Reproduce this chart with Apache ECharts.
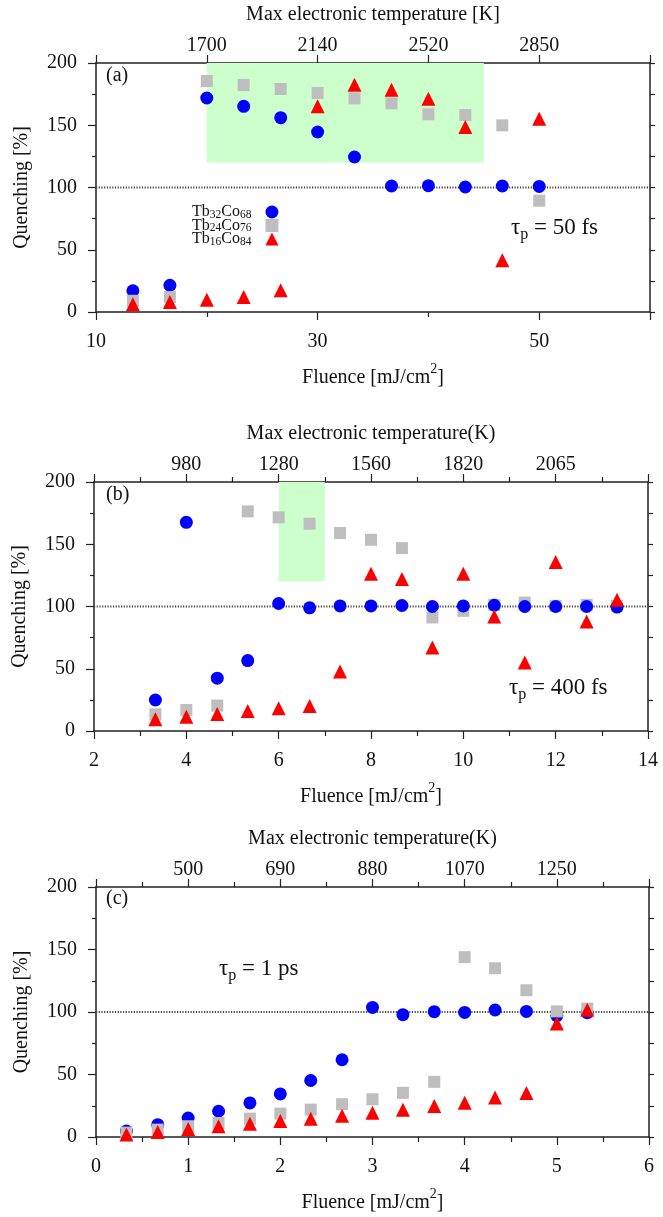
<!DOCTYPE html>
<html><head><meta charset="utf-8">
<script src="https://cdn.jsdelivr.net/npm/echarts@6/dist/echarts.min.js"></script>
<style>html,body{margin:0;padding:0;background:#fff}#c{width:663px;height:1217px}</style>
</head><body><div id="c"></div>
<script>
// ---------- data ----------
const seriesNames = ['Tb32Co68', 'Tb24Co76', 'Tb16Co84'];

// panel (a) tau_p = 50 fs
const fluenceA = [13.33, 16.67, 20, 23.33, 26.67, 30, 33.33, 36.67, 40, 43.33, 46.67, 50];
const blueA = [17, 21.4, 171.9, 165.2, 156.1, 144.6, 124.5, 101.2, 101.5, 100.4, 101.2, 100.9];
const grayA = [9, 12, 185.5, 182.3, 179.1, 175.9, 171.6, 167.6, 158.8, 158.2, 149.9, 89.4];
const redA  = [6.2, 8, 9.9, 12, 17.4, 165.2, 182.6, 178.6, 171.3, 148.6, 41.5, 155.3];
const xRangeA = [10, 60];
const bottomLabelsA = [10, 30, 50];
const topTicksA = [20, 30, 40, 50];
const topLabelsA = ['1700', '2140', '2520', '2850'];
const shadeA = [20, 45, 120, 200];

// panel (b) tau_p = 400 fs
const fluenceB = [3.33, 4, 4.67, 5.33, 6, 6.67, 7.33, 8, 8.67, 9.33, 10, 10.67, 11.33, 12, 12.67, 13.33];
const blueB = [24.9, 167.6, 42.4, 56.6, 102.4, 98.9, 100.5, 100.5, 100.8, 100, 100.5, 101, 100, 100, 100, 99.5];
const grayB = [13.4, 16.9, 20.4, 176.4, 171.6, 166.5, 159, 153.6, 146.9, 91.2, 96.5, 101.3, 103.2, 100.5, 101.3, 100.5];
const redB  = [9.4, 11.5, 13.7, 16.1, 18.2, 20.1, 47.7, 126.3, 122, 67, 126.3, 92, 55, 135.7, 88, 105.4];
const xRangeB = [2, 14];
const bottomLabelsB = [2, 4, 6, 8, 10, 12, 14];
const topTicksB = [4, 6, 8, 10, 12];
const topLabelsB = ['980', '1280', '1560', '1820', '2065'];
const shadeB = [6, 7, 120, 200];

// panel (c) tau_p = 1 ps
const fluenceC = [0.33, 0.67, 1, 1.33, 1.67, 2, 2.33, 2.67, 3, 3.33, 3.67, 4, 4.33, 4.67, 5, 5.33];
const blueC = [4.8, 9.9, 15.2, 20.6, 27.3, 34.5, 45.2, 61.8, 103.7, 97.9, 100.3, 99.7, 101.6, 100.5, 97, 99.5];
const grayC = [3.5, 5.9, 8.6, 11.2, 14.7, 18.7, 21.9, 26.2, 30.2, 35.3, 44.1, 143.9, 135, 117.4, 100.5, 102.7];
const redC  = [2.1, 4, 6.4, 8.6, 10.7, 12.8, 14.7, 17.1, 19.5, 21.9, 24.9, 27.5, 31.6, 35.3, 90.9, 101.9];
const xRangeC = [0, 6];
const bottomLabelsC = [0, 1, 2, 3, 4, 5, 6];
const topTicksC = [1, 2, 3, 4, 5];
const topLabelsC = ['500', '690', '880', '1070', '1250'];

const yTicks = [0, 50, 100, 150, 200];
const referenceLevel = 100;

// ---------- styling ----------
const FONT = 'Liberation Serif';
const AXIS_COLOR = '#222';
const COLORS = ['#0000ff', '#bebebe', '#ff0000'];
const SYMBOLS = ['circle', 'rect', 'triangle'];
const SIZES = [13, 12, 14];

function zip(xs, ys) { return xs.map((x, i) => [x, ys[i]]); }

const panels = [
  { grid: { left: 96, top: 63, width: 554, height: 249 }, range: xRangeA, bInt: 20, bMinor: 2,
    bLabels: bottomLabelsA, tInt: 10, tMinor: 0, tTicks: topTicksA, tLabels: topLabelsA,
    topName: 'Max electronic temperature [K]', x: fluenceA, ys: [blueA, grayA, redA], order: [0, 1, 2], shade: shadeA },
  { grid: { left: 94, top: 482, width: 554, height: 249 }, range: xRangeB, bInt: 2, bMinor: 2,
    bLabels: bottomLabelsB, tInt: 2, tMinor: 2, tTicks: topTicksB, tLabels: topLabelsB,
    topName: 'Max electronic temperature(K)', x: fluenceB, ys: [blueB, grayB, redB], order: [1, 0, 2], shade: shadeB },
  { grid: { left: 96, top: 887, width: 553, height: 250 }, range: xRangeC, bInt: 1, bMinor: 2,
    bLabels: bottomLabelsC, tInt: 1, tMinor: 2, tTicks: topTicksC, tLabels: topLabelsC,
    topName: 'Max electronic temperature(K)', x: fluenceC, ys: [blueC, grayC, redC], order: [0, 1, 2], shade: null }
];

const axisLine = { show: true, onZero: false, lineStyle: { color: AXIS_COLOR, width: 1.5 } };
const grids = [], xAxes = [], yAxes = [], series = [];

panels.forEach((p, i) => {
  grids.push(Object.assign({ containLabel: false }, p.grid));
  // bottom x axis
  xAxes.push({
    type: 'value', gridIndex: i, position: 'bottom', min: p.range[0], max: p.range[1], interval: p.bInt,
    axisLine, splitLine: { show: false },
    axisTick: { show: true, length: 8, lineStyle: { color: AXIS_COLOR, width: 1.2 } },
    minorTick: { show: p.bMinor > 0, splitNumber: p.bMinor, length: 5, lineStyle: { color: AXIS_COLOR, width: 1.2 } },
    axisLabel: { show: true, margin: 20, fontFamily: FONT, fontSize: 20, color: '#111',
      showMaxLabel: true, showMinLabel: true,
      formatter: v => p.bLabels.some(b => Math.abs(b - v) < 1e-6) ? String(v) : '' },
    name: '{a|Fluence [mJ/cm}{u|2}{a|]}', nameLocation: 'middle', nameGap: 50,
    nameTextStyle: { rich: {
      a: { fontFamily: FONT, fontSize: 20, color: '#111', lineHeight: 26, verticalAlign: 'bottom' },
      u: { fontFamily: FONT, fontSize: 14, color: '#111', lineHeight: 14, verticalAlign: 'top' } } }
  });
  // top x axis
  xAxes.push({
    type: 'value', gridIndex: i, position: 'top', min: p.range[0], max: p.range[1], interval: p.tInt,
    axisLine, splitLine: { show: false },
    axisTick: { show: true, length: 8, lineStyle: { color: AXIS_COLOR, width: 1.2 } },
    minorTick: { show: p.tMinor > 0, splitNumber: p.tMinor, length: 5, lineStyle: { color: AXIS_COLOR, width: 1.2 } },
    axisLabel: { show: true, margin: 7, fontFamily: FONT, fontSize: 20, color: '#111',
      formatter: v => { const k = p.tTicks.findIndex(t => Math.abs(t - v) < 1e-6); return k >= 0 ? p.tLabels[k] : ''; } },
    name: p.topName, nameLocation: 'middle', nameGap: 38,
    nameTextStyle: { fontFamily: FONT, fontSize: 20, color: '#111' }
  });
  // left y axis
  yAxes.push({
    type: 'value', gridIndex: i, position: 'left', min: 0, max: 200, interval: 50,
    axisLine, splitLine: { show: false },
    axisTick: { show: true, length: 8, lineStyle: { color: AXIS_COLOR, width: 1.2 } },
    minorTick: { show: true, splitNumber: 2, length: 4, lineStyle: { color: AXIS_COLOR, width: 1.2 } },
    axisLabel: { margin: 19, fontFamily: FONT, fontSize: 20, color: '#111',
      formatter: v => yTicks.includes(v) ? String(v) : '' },
    name: 'Quenching [%]', nameLocation: 'middle', nameGap: 64, nameRotate: 90,
    nameTextStyle: { fontFamily: FONT, fontSize: 20, color: '#111' }
  });
  // right y axis
  yAxes.push({
    type: 'value', gridIndex: i, position: 'right', min: 0, max: 200, interval: 25,
    axisLine, splitLine: { show: false }, axisLabel: { show: false },
    axisTick: { show: true, length: 5, lineStyle: { color: AXIS_COLOR, width: 1.2 } }
  });

  const xi = 2 * i, yi = 2 * i;
  // reference dotted line at 100 and shaded region
  const ref = {
    type: 'line', xAxisIndex: xi, yAxisIndex: yi, z: 1, silent: true, symbol: 'none',
    data: [[p.range[0], referenceLevel], [p.range[1], referenceLevel]],
    lineStyle: { color: '#444', width: 1.8, type: [1.2, 1.5] }, animation: false
  };
  if (p.shade) {
    ref.markArea = { silent: true, itemStyle: { color: '#ccffcc' },
      data: [[{ coord: [p.shade[0], p.shade[3]] }, { coord: [p.shade[1], p.shade[2]] }]] };
  }
  series.push(ref);

  p.order.forEach((k, n) => {
    series.push({
      name: seriesNames[k], type: 'scatter', xAxisIndex: xi, yAxisIndex: yi,
      symbol: SYMBOLS[k], symbolSize: SIZES[k], z: 3 + n,
      itemStyle: { color: COLORS[k], opacity: 1 },
      data: zip(p.x, p.ys[k]), animation: false
    });
  });
});

function chem(name) {
  const m = name.match(/Tb(\d+)Co(\d+)/);
  return `{n|Tb}{s|${m[1]}}{n|Co}{s|${m[2]}}{g|}`;
}

const tau = (sub, rest) => `{t|τ}{s|${sub}}{t|${rest}}`;
const tauRich = {
  t: { fontFamily: FONT, fontSize: 23, fill: '#111', lineHeight: 30, verticalAlign: 'middle' },
  s: { fontFamily: FONT, fontSize: 16, fill: '#111', lineHeight: 16, verticalAlign: 'bottom' }
};

const option = {
  backgroundColor: '#fff',
  animation: false,
  grid: grids, xAxis: xAxes, yAxis: yAxes, series,
  legend: {
    data: seriesNames, orient: 'vertical', left: 187, top: 199, align: 'right',
    itemGap: -3, itemWidth: 13, itemHeight: 13, selectedMode: false,
    formatter: chem,
    textStyle: { rich: {
      n: { fontFamily: FONT, fontSize: 16, color: '#111', lineHeight: 17, verticalAlign: 'middle' },
      s: { fontFamily: FONT, fontSize: 11.5, color: '#111', lineHeight: 11, verticalAlign: 'bottom' },
      g: { width: 9 } } }
  },
  graphic: [
    { type: 'text', left: 106, top: 66, style: { text: '(a)', font: `20px "${FONT}"`, fill: '#111' } },
    { type: 'text', left: 106, top: 485, style: { text: '(b)', font: `20px "${FONT}"`, fill: '#111' } },
    { type: 'text', left: 106, top: 889, style: { text: '(c)', font: `20px "${FONT}"`, fill: '#111' } },
    { type: 'text', left: 511, top: 216, style: { text: tau('p', ' = 50 fs'), rich: tauRich } },
    { type: 'text', left: 509, top: 676, style: { text: tau('p', ' = 400 fs'), rich: tauRich } },
    { type: 'text', left: 219, top: 957, style: { text: tau('p', ' = 1 ps'), rich: tauRich } }
  ]
};

const chart = echarts.init(document.getElementById('c'), null, { renderer: 'canvas' });
chart.setOption(option);
</script>
</body></html>
